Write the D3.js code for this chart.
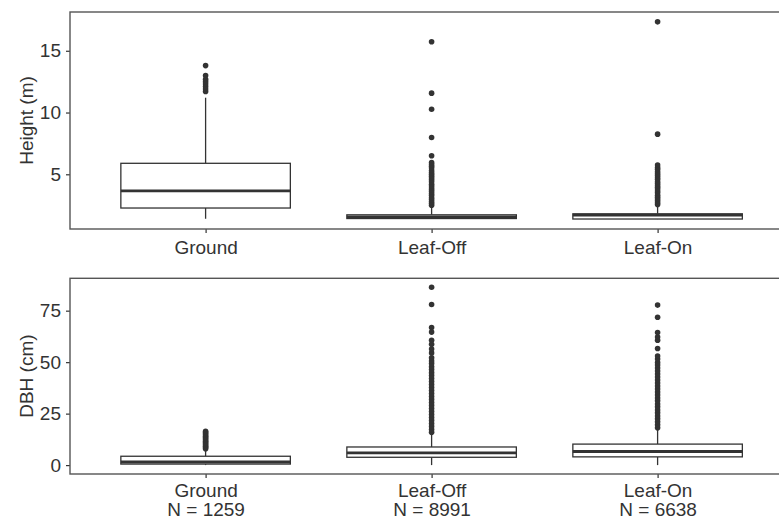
<!DOCTYPE html>
<html>
<head>
<meta charset="utf-8">
<script src="https://cdn.jsdelivr.net/npm/d3@7/dist/d3.min.js"></script>
<style>
    body { margin: 0; background: #fff; }
    text { font-family: "Liberation Sans", Arial, sans-serif; fill: #333; }
</style>
</head>
<body>
<svg id="chart" width="779" height="524"></svg>
<script>

const groups = ['Ground', 'Leaf-Off', 'Leaf-On'];
const counts = [1259, 8991, 6638];

// box stats per group: [lower whisker, Q1, median, Q3, upper whisker]
const heightStats = [
    [1.40, 2.27, 3.66, 5.89, 11.2],
    [1.38, 1.42, 1.56, 1.72, 2.40],
    [1.37, 1.38, 1.70, 1.80, 2.45]
];
const heightOutliers = [
    [11.7, 11.9, 12.1, 12.3, 12.5, 12.7, 13.0, 13.8],
    [2.5, 2.65, 2.8, 2.95, 3.1, 3.3, 3.45, 3.6, 3.75, 3.9, 4.05, 4.2, 4.4, 4.55, 4.7,
     4.85, 5.0, 5.15, 5.3, 5.5, 5.65, 5.8, 5.95, 6.5, 7.98, 10.26, 11.57, 15.73],
    [2.55, 2.7, 2.85, 3.0, 3.15, 3.3, 3.5, 3.65, 3.8, 3.95, 4.1, 4.25, 4.4, 4.6, 4.75,
     4.9, 5.05, 5.2, 5.4, 5.55, 5.75, 8.25, 17.34]
];
const heightTicks = [5, 10, 15];

const dbhStats = [
    [0, 0.5, 1.5, 4.3, 7.4],
    [0, 3.8, 5.9, 8.8, 15.2],
    [0, 4.0, 6.6, 10.2, 17.4]
];
const dbhOutliers = [
    [8.0, 8.6, 9.2, 9.8, 10.4, 11.0, 11.6, 12.2, 12.8, 13.4, 14.0, 14.6, 15.2, 15.8, 16.4],
    [15.9, 17.3, 18.8, 20.2, 21.7, 23.1, 24.6, 26.0, 27.5, 29.0, 30.4, 31.9, 33.3, 34.8,
     36.2, 37.7, 39.1, 40.6, 42.0, 43.5, 44.9, 46.4, 47.8, 49.3, 50.6, 52.1, 54.5, 56.4,
     58.7, 60.6, 64.6, 66.8, 78.0, 86.4],
    [18.1, 19.6, 21.0, 22.5, 23.9, 25.4, 26.8, 28.3, 29.7, 31.2, 32.6, 34.1, 35.5, 37.0,
     38.4, 39.9, 41.3, 42.8, 44.2, 45.7, 47.1, 48.6, 49.8, 51.5, 53.0, 56.6, 60.6, 62.2,
     64.4, 71.8, 77.7]
];
const dbhTicks = [0, 25, 50, 75];

const svg = d3.select('#chart');
svg.append('rect').attr('width', 779).attr('height', 524).attr('fill', '#fff');

const x = d3.scalePoint()
    .domain(groups)
    .range([70, 793.2])
    .padding(0.6);

drawPanel(12, 229, heightStats, heightOutliers, heightTicks, 'Height (m)', false);
drawPanel(278.3, 474, dbhStats, dbhOutliers, dbhTicks, 'DBH (cm)', true);


function drawPanel (top, bottom, stats, outliers, ticks, title, showN) {

    const g = svg.append('g');
    const boxW = x.step() * 0.75;

    let lo = d3.min(stats, d => d[0]);
    let hi = d3.max(outliers, d => d3.max(d));
    let pad = (hi - lo) * 0.05;

    const y = d3.scaleLinear()
        .domain([lo - pad, hi + pad])
        .range([bottom, top]);

    // axes
    let ya = g.append('g')
        .attr('transform', 'translate(70,0)')
        .call(d3.axisLeft(y).tickValues(ticks).tickSize(4).tickPadding(5));
    let xa = g.append('g')
        .attr('transform', 'translate(0,' + bottom + ')')
        .call(d3.axisBottom(x).tickSize(4).tickPadding(showN ? 6 : 7.5));

    [ya, xa].forEach(a => {
        a.select('.domain').remove();
        a.selectAll('line').attr('stroke', '#333').attr('stroke-width', 1.2);
        a.selectAll('text')
            .attr('fill', '#333')
            .style('font-size', '19px')
            .style('font-family', '"Liberation Sans", Arial, sans-serif');
    });

    if (showN) {
        xa.selectAll('.tick text').each(function (d, i) {
            let t = d3.select(this).text('');
            t.append('tspan').attr('x', 0).attr('dy', '0.71em').text(d);
            t.append('tspan').attr('x', 0).attr('dy', '1.0em').text('N = ' + counts[i]);
        });
    }

    // boxes
    groups.forEach((name, i) => {
        const s = stats[i];
        const cx = x(name);

        g.selectAll('.out' + i)
            .data(outliers[i])
            .enter()
            .append('circle')
            .attr('cx', cx)
            .attr('cy', d => y(d))
            .attr('r', 2.8)
            .attr('fill', '#333');

        g.append('line')
            .attr('x1', cx).attr('x2', cx)
            .attr('y1', y(s[3])).attr('y2', y(s[4]))
            .attr('stroke', '#333').attr('stroke-width', 1.3);
        g.append('line')
            .attr('x1', cx).attr('x2', cx)
            .attr('y1', y(s[1])).attr('y2', y(s[0]))
            .attr('stroke', '#333').attr('stroke-width', 1.3);

        g.append('rect')
            .attr('x', cx - boxW / 2)
            .attr('width', boxW)
            .attr('y', y(s[3]))
            .attr('height', y(s[1]) - y(s[3]))
            .attr('fill', '#fff')
            .attr('stroke', '#333')
            .attr('stroke-width', 1.3);

        g.append('line')
            .attr('x1', cx - boxW / 2).attr('x2', cx + boxW / 2)
            .attr('y1', y(s[2])).attr('y2', y(s[2]))
            .attr('stroke', '#333').attr('stroke-width', 2.8);
    });

    // panel border
    g.append('rect')
        .attr('x', 70)
        .attr('y', top)
        .attr('width', 723.2)
        .attr('height', bottom - top)
        .attr('fill', 'none')
        .attr('stroke', '#555')
        .attr('stroke-width', 1.4);

    g.append('text')
        .attr('transform', 'translate(33,' + ((top + bottom) / 2) + ') rotate(-90)')
        .attr('text-anchor', 'middle')
        .style('font-size', '19px')
        .text(title);
}

</script>
</body>
</html>
